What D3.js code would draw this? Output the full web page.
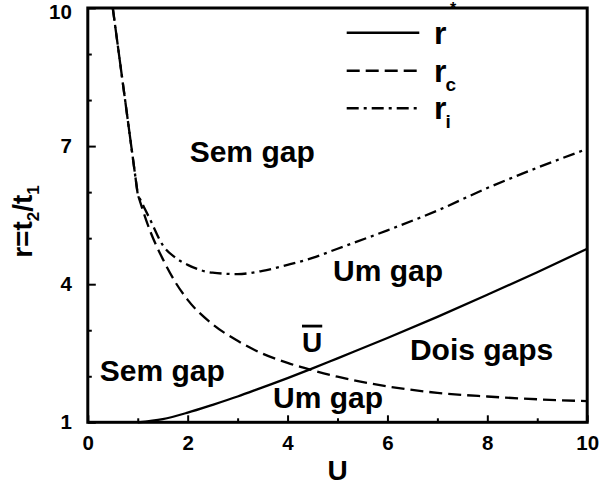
<!DOCTYPE html>
<html><head><meta charset="utf-8">
<script src="https://cdn.jsdelivr.net/npm/d3@7"></script>
<style>
body{margin:0;background:#fff;}
svg{display:block;font-family:"Liberation Sans",Arial,sans-serif;font-weight:bold;}
</style></head>
<body>
<svg id="chart" width="601" height="488"></svg>
<script>
// ---- data ----
const U_star = [1, 1.5, 2, 2.5, 3, 3.5, 4, 4.5, 5, 6, 7, 8, 9, 10];
const r_star = [1.0, 1.07, 1.21, 1.38, 1.56, 1.76, 1.96, 2.17, 2.39, 2.83, 3.29, 3.77, 4.26, 4.77];
const U_ci = [0.5, 1, 1.25, 1.5, 1.75, 2, 2.5, 3, 3.5, 4, 4.5, 5, 6, 7, 8, 9, 10];
const r_c = [10, 5.95, 5.15, 4.55, 4.05, 3.66, 3.13, 2.77, 2.49, 2.29, 2.13, 1.99, 1.78, 1.64, 1.56, 1.50, 1.46];
const r_i = [10, 5.95, 5.4, 4.85, 4.58, 4.42, 4.25, 4.22, 4.29, 4.42, 4.57, 4.77, 5.17, 5.60, 6.09, 6.53, 6.94];
const xMajor = [0, 2, 4, 6, 8, 10];
const xMinor = [1, 3, 5, 7, 9];
const yMajor = [1, 4, 7, 10];
const yMinor = [2, 3, 5, 6, 8, 9];
const legendNames = ["*", "c", "i"];
const regionLabels = [
  {t: "Sem gap", U: 2.04, r: 6.66},
  {t: "Um gap", U: 4.91, r: 4.06},
  {t: "Dois gaps", U: 6.45, r: 2.36},
  {t: "Sem gap", U: 0.24, r: 1.9},
  {t: "Um gap", U: 3.71, r: 1.3}
];

const svg = d3.select("#chart");
const x = d3.scaleLinear().domain([0, 10]).range([87.8, 587.2]);
const y = d3.scaleLinear().domain([1, 10]).range([422.3, 8]);

const styles = [
  {w: 2.3, dash: null},
  {w: 2.3, dash: "13,6"},
  {w: 2.3, dash: "12,5,3,5"}
];

// curves
function pathFor(Us, rs, splitFirst) {
  const pts = Us.map((u, k) => [u, rs[k]]);
  const mono = d3.line().x(d => x(d[0])).y(d => y(d[1])).curve(d3.curveMonotoneX);
  if (!splitFirst) return mono(pts);
  const lin = d3.line().x(d => x(d[0])).y(d => y(d[1]));
  return lin(pts.slice(0, 2)) + mono(pts.slice(1)).replace(/^M/, "L");
}
const series = [
  pathFor(U_star, r_star, false),
  pathFor(U_ci, r_c, true),
  pathFor(U_ci, r_i, true)
];
series.forEach((d, k) => {
  svg.append("path").attr("d", d).attr("fill", "none").attr("stroke", "#000")
    .attr("stroke-width", styles[k].w).attr("stroke-dasharray", styles[k].dash)
    .attr("stroke-linejoin", "round");
});

// axes (ticks inward)
const axG = svg.append("g");
const xAxis = d3.axisBottom(x).tickValues(xMajor).tickSize(-7).tickPadding(18).tickFormat(d3.format("d"));
const gx = axG.append("g").attr("transform", `translate(0,${y.range()[0]})`).call(xAxis);
const gxm = axG.append("g").attr("transform", `translate(0,${y.range()[0]})`)
  .call(d3.axisBottom(x).tickValues(xMinor).tickSize(-4).tickFormat(""));
const yAxis = d3.axisLeft(y).tickValues(yMajor).tickSize(-8).tickPadding(16).tickFormat(d3.format("d"));
const gy = axG.append("g").attr("transform", `translate(${x.range()[0]},0)`).call(yAxis);
const gym = axG.append("g").attr("transform", `translate(${x.range()[0]},0)`)
  .call(d3.axisLeft(y).tickValues(yMinor).tickSize(-4).tickFormat(""));
[gx, gxm, gy, gym].forEach(g => {
  g.select(".domain").remove();
  g.selectAll(".tick line").attr("stroke", "#000").attr("stroke-width", 2);
  g.selectAll("text").attr("font-size", 20.5).attr("font-weight", "bold")
    .attr("font-family", '"Liberation Sans",Arial,sans-serif').attr("fill", "#000");
});
gx.selectAll(".tick text").attr("dy", null).attr("y", 27.5);
gy.selectAll(".tick text").filter(d => d === 10).attr("dy", 10);

// frame
svg.append("rect").attr("x", x(0)).attr("y", y(10))
  .attr("width", x(10) - x(0)).attr("height", y(1) - y(10))
  .attr("fill", "none").attr("stroke", "#000").attr("stroke-width", 3);

// axis titles
svg.append("text").attr("x", 337.5).attr("y", 480).attr("text-anchor", "middle")
  .attr("font-size", 28).text("U");
const yl = svg.append("text").attr("transform", "translate(32,221.5) rotate(-90)")
  .attr("text-anchor", "middle").attr("font-size", 28);
yl.append("tspan").text("r=t");
yl.append("tspan").attr("font-size", 17).attr("dy", 7).text("2");
yl.append("tspan").attr("dy", -7).text("/t");
yl.append("tspan").attr("font-size", 17).attr("dy", 7).text("1");

// region labels
regionLabels.forEach(l => {
  svg.append("text").attr("x", x(l.U)).attr("y", y(l.r)).attr("font-size", 30).text(l.t);
});
// critical point label
svg.append("text").attr("x", 302).attr("y", 351.7).attr("font-size", 28)
  .style("text-decoration", "overline").text("U");

// legend
const legY = [32.7, 70.7, 108.3];
legendNames.forEach((nm, k) => {
  svg.append("line").attr("x1", 346.7).attr("x2", 419.3).attr("y1", legY[k]).attr("y2", legY[k])
    .attr("stroke", "#000").attr("stroke-width", 2.6).attr("stroke-dasharray", styles[k].dash);
  const t = svg.append("text").attr("x", 434).attr("y", legY[k] + 10.8).attr("font-size", 32);
  t.append("tspan").text("r");
  if (nm === "*") {
    svg.append("text").attr("x", 450).attr("y", 14).attr("font-size", 16).text("*");
  } else {
    t.append("tspan").attr("font-size", 19).attr("dy", 9).attr("dx", -1).text(nm);
  }
});
</script>
</body></html>
